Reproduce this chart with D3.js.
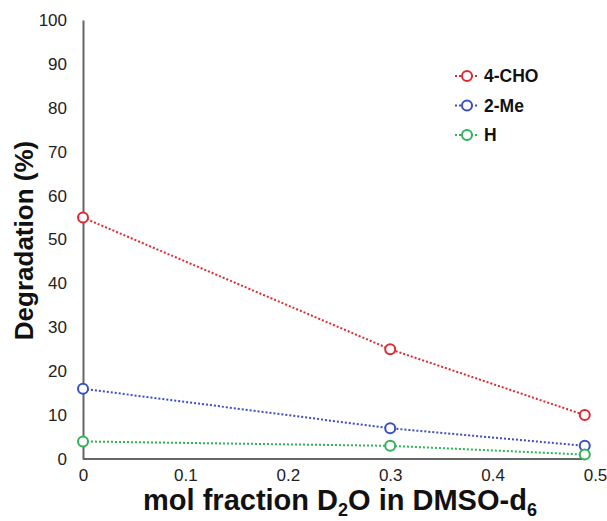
<!DOCTYPE html>
<html><head><meta charset="utf-8">
<script src="https://cdn.jsdelivr.net/npm/d3@7"></script>
<style>body{margin:0;background:#fff;}svg{display:block;font-family:Arial,"Liberation Sans",sans-serif;}</style>
</head><body>
<svg id="c" width="607" height="521"></svg>
<script>
const xValues = [0, 0.3, 0.49];
const seriesNames = ["4-CHO", "2-Me", "H"];
const cho = [55, 25, 10];
const me = [16, 7, 3];
const h = [4, 3, 1];
const seriesColors = ["#dc2a30", "#3c4fbf", "#2fb25b"];
const xTicks = [0, 0.1, 0.2, 0.3, 0.4, 0.5];
const yTicks = [0, 10, 20, 30, 40, 50, 60, 70, 80, 90, 100];

const svg = d3.select("#c");
const x = d3.scaleLinear().domain([0, 0.5]).range([83, 595]);
const y = d3.scaleLinear().domain([0, 100]).range([459, 20]);
const series = [cho, me, h];

// axes
const yAxis = svg.append("g").attr("transform", `translate(${x(0)},0)`)
  .call(d3.axisLeft(y).tickValues(yTicks).tickSize(0).tickPadding(16).tickFormat(d3.format("d")));
yAxis.select(".domain").attr("stroke", "#666").attr("stroke-width", 2);
yAxis.selectAll("text").attr("font-size", 17).attr("fill", "#222").attr("font-family", "Arial, Liberation Sans, sans-serif");

const xAxis = svg.append("g").attr("transform", `translate(0,${y(0)})`)
  .call(d3.axisBottom(x).tickValues(xTicks).tickSize(0).tickPadding(10).tickFormat(d => d === 0 ? "0" : d3.format(".1f")(d)));
xAxis.select(".domain").remove();
xAxis.selectAll("text").attr("font-size", 17).attr("fill", "#222").attr("font-family", "Arial, Liberation Sans, sans-serif");
svg.append("line").attr("x1", x(0)).attr("x2", x(xValues[xValues.length-1])).attr("y1", y(0)).attr("y2", y(0))
  .attr("stroke", "#666").attr("stroke-width", 2);

// lines
const line = d3.line().x((d, i) => x(xValues[i])).y(d => y(d));
series.forEach((s, k) => {
  svg.append("path").attr("d", line(s)).attr("fill", "none").attr("stroke", seriesColors[k])
    .attr("stroke-width", 2).attr("stroke-dasharray", "2,2");
  svg.selectAll(null).data(s).enter().append("circle")
    .attr("cx", (d, i) => x(xValues[i])).attr("cy", d => y(d)).attr("r", 5)
    .attr("fill", "#fff").attr("stroke", seriesColors[k]).attr("stroke-width", 2);
});

// legend
const leg = svg.append("g").attr("transform", "translate(455,76)");
seriesNames.forEach((n, k) => {
  const g = leg.append("g").attr("transform", `translate(0,${k*29.5})`);
  g.append("line").attr("x1", 0).attr("x2", 24).attr("stroke", seriesColors[k]).attr("stroke-width", 2).attr("stroke-dasharray", "2,2");
  g.append("circle").attr("cx", 12).attr("r", 5).attr("fill", "#fff").attr("stroke", seriesColors[k]).attr("stroke-width", 2);
  g.append("text").attr("x", 29).attr("dy", "0.35em").attr("font-size", 17.5).attr("font-weight", "bold").attr("fill", "#111").text(n);
});

// titles
svg.append("text").attr("transform", `translate(33,${y(50) + 1}) rotate(-90)`).attr("text-anchor", "middle")
  .attr("font-size", 26).attr("font-weight", "bold").attr("fill", "#111").text("Degradation (%)");
const xt = svg.append("text").attr("x", 340).attr("y", 510).attr("text-anchor", "middle")
  .attr("font-size", 29).attr("font-weight", "bold").attr("fill", "#111");
xt.append("tspan").text("mol fraction D");
xt.append("tspan").attr("font-size", 18).attr("dy", 6).text("2");
xt.append("tspan").attr("dy", -6).text("O in DMSO-d");
xt.append("tspan").attr("font-size", 18).attr("dy", 6).text("6");
</script>
</body></html>
